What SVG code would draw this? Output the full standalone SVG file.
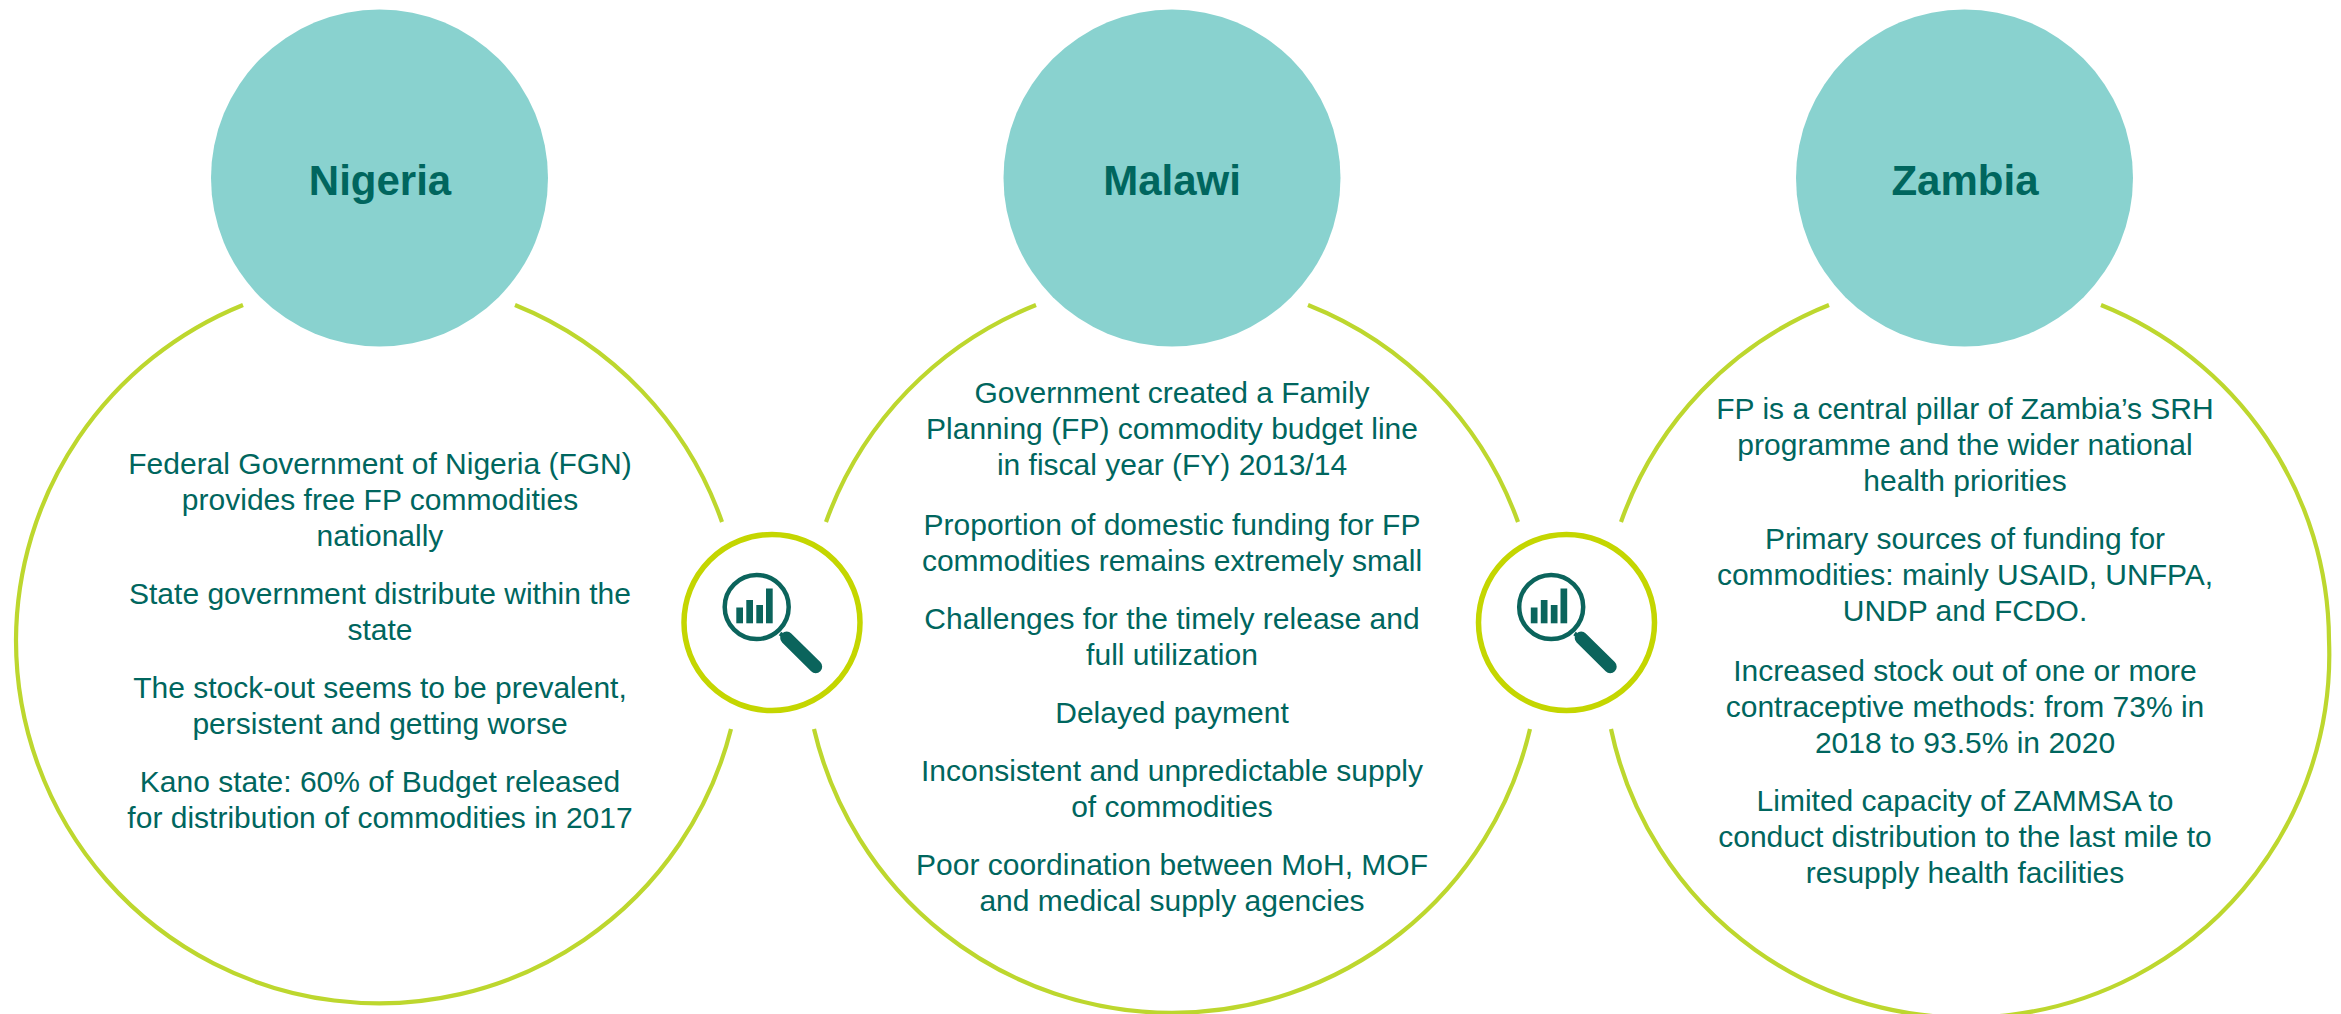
<svg xmlns="http://www.w3.org/2000/svg" width="2341" height="1014" viewBox="0 0 2341 1014">
<style>
.head{fill:#89d2cf}
.big{fill:none;stroke:#bdd72e;stroke-width:4.2}
.ring{fill:#fff;stroke:#c4d600;stroke-width:5.5}
.t{font-family:"Liberation Sans",Arial,sans-serif;font-size:30px;fill:#00665e;text-anchor:middle}
.h{font-family:"Liberation Sans",Arial,sans-serif;font-size:42px;font-weight:700;fill:#00665e;text-anchor:middle}
.ic{fill:#0b645c}
</style>
<defs>
<g id="lens">
<circle cx="-15.300" cy="-15.500" r="32" fill="none" stroke="#0b645c" stroke-width="4.500"/>
<rect class="ic" x="-35.700" y="-15" width="6.700" height="15.800"/>
<rect class="ic" x="-25.700" y="-22.500" width="6.700" height="23.300"/>
<rect class="ic" x="-15.700" y="-17.500" width="6.700" height="18.300"/>
<rect class="ic" x="-6" y="-34" width="6.700" height="34.800"/>
<path d="M8 11 L15 16" stroke="#0b645c" stroke-width="4" fill="none"/>
<path d="M14.700 15.500 L43.700 44.200" stroke="#0b645c" stroke-width="13" stroke-linecap="round" fill="none"/>
</g>
</defs>
<g id="connectors">
<path class="big" d="M243 305 A363 363 0 0 0 16 640 A363 363 0 0 0 731 729"/>
<path class="big" d="M515 305 A363 363 0 0 1 722 522"/>
<path class="big" d="M1036 305 A367 367 0 0 0 826 522"/>
<path class="big" d="M1308 305 A367 367 0 0 1 1518 522"/>
<path class="big" d="M814 729 A367.700 367.700 0 0 0 1530 729"/>
<path class="big" d="M1829 305 A363 363 0 0 0 1621 522"/>
<path class="big" d="M2101 305 A363 363 0 0 1 2329 640 A363 363 0 0 1 1611 729"/>
</g>
<g id="nigeria"><circle class="head" cx="379.500" cy="178" r="168.500"/>
<text class="h" x="380" y="195">Nigeria</text>
<text class="t"><tspan x="380" y="474">Federal Government of Nigeria (FGN)</tspan><tspan x="380" y="510">provides free FP commodities</tspan><tspan x="380" y="546">nationally</tspan><tspan x="380" y="604">State government distribute within the</tspan><tspan x="380" y="640">state</tspan><tspan x="380" y="698">The stock-out seems to be prevalent,</tspan><tspan x="380" y="734">persistent and getting worse</tspan><tspan x="380" y="792">Kano state: 60% of Budget released</tspan><tspan x="380" y="828">for distribution of commodities in 2017</tspan></text></g>
<g id="malawi"><circle class="head" cx="1172" cy="178" r="168.500"/>
<text class="h" x="1172" y="195">Malawi</text>
<text class="t"><tspan x="1172" y="403">Government created a Family</tspan><tspan x="1172" y="439">Planning (FP) commodity budget line</tspan><tspan x="1172" y="475">in fiscal year (FY) 2013/14</tspan><tspan x="1172" y="535">Proportion of domestic funding for FP</tspan><tspan x="1172" y="571">commodities remains extremely small</tspan><tspan x="1172" y="629">Challenges for the timely release and</tspan><tspan x="1172" y="665">full utilization</tspan><tspan x="1172" y="723">Delayed payment</tspan><tspan x="1172" y="781">Inconsistent and unpredictable supply</tspan><tspan x="1172" y="817">of commodities</tspan><tspan x="1172" y="875">Poor coordination between MoH, MOF</tspan><tspan x="1172" y="911">and medical supply agencies</tspan></text></g>
<g id="zambia"><circle class="head" cx="1964.500" cy="178" r="168.500"/>
<text class="h" x="1965" y="195">Zambia</text>
<text class="t"><tspan x="1965" y="419">FP is a central pillar of Zambia’s SRH</tspan><tspan x="1965" y="455">programme and the wider national</tspan><tspan x="1965" y="491">health priorities</tspan><tspan x="1965" y="549">Primary sources of funding for</tspan><tspan x="1965" y="585">commodities: mainly USAID, UNFPA,</tspan><tspan x="1965" y="621">UNDP and FCDO.</tspan><tspan x="1965" y="681">Increased stock out of one or more</tspan><tspan x="1965" y="717">contraceptive methods: from 73% in</tspan><tspan x="1965" y="753">2018 to 93.5% in 2020</tspan><tspan x="1965" y="811">Limited capacity of ZAMMSA to</tspan><tspan x="1965" y="847">conduct distribution to the last mile to</tspan><tspan x="1965" y="883">resupply health facilities</tspan></text></g>
<g id="lens-left"><circle class="ring" cx="772" cy="622.500" r="88"/><use href="#lens" x="772" y="622.500"/></g>
<g id="lens-right"><circle class="ring" cx="1566.500" cy="622.500" r="88"/><use href="#lens" x="1566.500" y="622.500"/></g>
</svg>
